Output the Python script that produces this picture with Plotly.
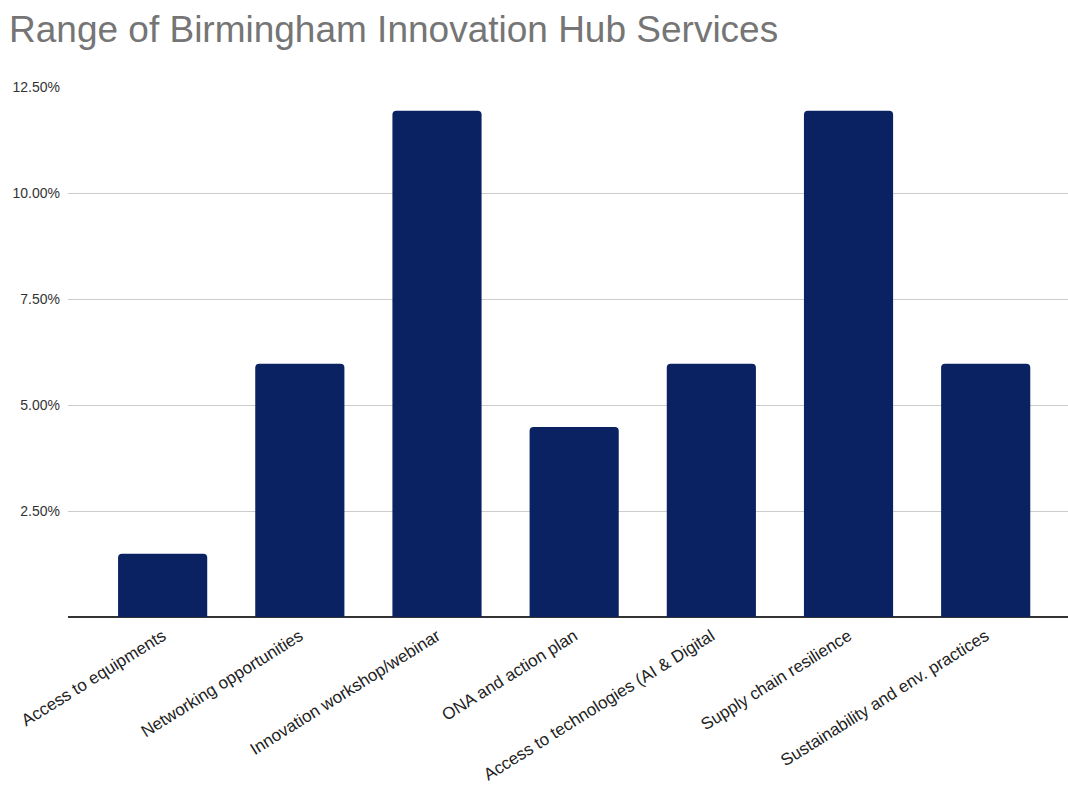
import plotly.graph_objects as go

# Service categories and share of responses (%)
services = [
    "Access to equipments",
    "Networking opportunities",
    "Innovation workshop/webinar",
    "ONA and action plan",
    "Access to technologies (AI & Digital",
    "Supply chain resilience",
    "Sustainability and env. practices",
]
share_pct = [1.49, 5.97, 11.94, 4.48, 5.97, 11.94, 5.97]

tick_vals = [2.5, 5.0, 7.5, 10.0, 12.5]
tick_text = ["2.50%", "5.00%", "7.50%", "10.00%", "12.50%"]

W, H = 1068, 788

fig = go.Figure(
    go.Bar(
        x=services,
        y=share_pct,
        marker=dict(color="#0b2262", line=dict(width=0)),
        width=0.65,
    )
)

fig.update_layout(
    width=W,
    height=H,
    paper_bgcolor="white",
    plot_bgcolor="white",
    margin=dict(l=68, r=0, t=87, b=171),
    barcornerradius=4,
    showlegend=False,
    font=dict(family="Liberation Sans, Arial, sans-serif", color="#222222"),
    title=dict(
        text="Range of Birmingham Innovation Hub Services",
        font=dict(size=37, color="#757575", family="Liberation Sans, Arial, sans-serif"),
        xref="container",
        yref="container",
        x=9 / W,
        y=1 - 16 / H,
        xanchor="left",
        yanchor="top",
    ),
)

fig.update_xaxes(
    type="category",
    range=[-0.69, 6.6],
    tickangle=-32,
    tickfont=dict(size=17, color="#222222"),
    showgrid=False,
    showline=False,
    ticks="",
    ticklabelstandoff=5,
)

fig.update_yaxes(
    range=[0, 12.5],
    tickvals=tick_vals,
    ticktext=tick_text,
    tickfont=dict(size=14, color="#333333"),
    showgrid=True,
    gridcolor="#cccccc",
    gridwidth=1,
    zeroline=True,
    zerolinecolor="#333333",
    zerolinewidth=1.5,
    showline=False,
    ticks="",
    ticklabelstandoff=7,
)

fig.write_html("out.html")
